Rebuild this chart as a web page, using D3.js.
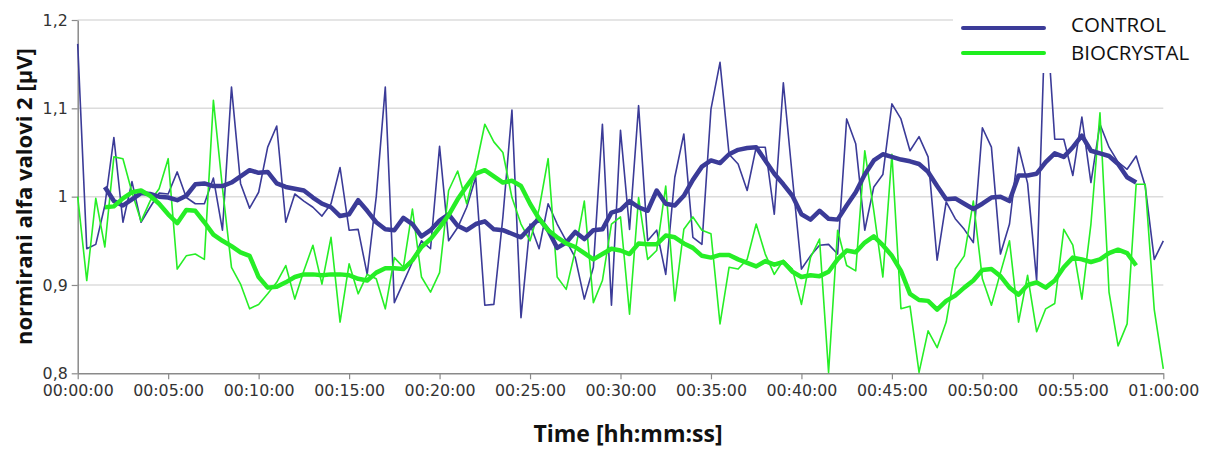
<!DOCTYPE html>
<html>
<head>
<meta charset="utf-8">
<script src="https://cdn.jsdelivr.net/npm/d3@7"></script>
<style>
  html, body { margin: 0; padding: 0; background: #fff; }
  #chart { display: block; }
</style>
</head>
<body>
<svg id="chart" width="1207" height="449"></svg>
<script>
// Sampling interval of the recording (seconds between two raw points)
const sampleSeconds = 30;

// Raw values, one every 30 s from 00:00:00 to 01:00:00
const controlRaw = [
  1.173, 0.941, 0.946, 0.990, 1.067, 0.971, 1.017, 0.971, 0.988, 1.004,
  1.003, 1.028, 0.999, 0.992, 0.992, 1.021, 0.962, 1.124, 1.015, 0.987,
  1.005, 1.056, 1.080, 0.971, 1.003, 0.995, 0.988, 0.978, 0.992, 1.033,
  0.962, 0.963, 0.912, 1.000, 1.124, 0.880, 0.903, 0.926, 0.950, 0.941,
  1.057, 0.950, 0.965, 0.988, 1.022, 0.877, 0.878, 0.977, 1.098, 0.863,
  0.969, 0.941, 0.992, 0.969, 0.950, 0.931, 0.884, 0.920, 1.082, 0.877,
  1.075, 0.963, 1.103, 0.950, 0.962, 0.912, 1.022, 1.071, 0.954, 0.946,
  1.099, 1.152, 1.048, 1.037, 1.007, 1.056, 1.056, 0.980, 1.129, 1.022,
  0.918, 0.933, 0.945, 0.946, 0.935, 1.088, 1.060, 0.962, 1.011, 1.025,
  1.105, 1.088, 1.052, 1.068, 1.045, 0.928, 0.994, 0.975, 0.963, 0.948,
  1.078, 1.056, 0.935, 0.969, 1.056, 1.015, 0.905, 1.220, 1.065, 1.065,
  1.024, 1.090, 1.016, 1.082, 1.056, 1.039, 1.031, 1.046, 1.012, 0.929,
  0.950
];

const biocrystalRaw = [
  1.000, 0.905, 0.998, 0.943, 1.045, 1.043, 1.005, 0.972, 0.995, 1.009,
  1.043, 0.918, 0.933, 0.935, 0.929, 1.109, 1.010, 0.920, 0.901, 0.873,
  0.878, 0.890, 0.903, 0.922, 0.884, 0.916, 0.945, 0.901, 0.954, 0.858,
  0.924, 0.890, 0.912, 0.907, 0.873, 0.931, 0.920, 0.986, 0.909, 0.892,
  0.914, 1.007, 1.029, 0.992, 1.033, 1.082, 1.062, 1.050, 0.999, 0.969,
  0.950, 0.986, 1.043, 0.909, 0.895, 0.939, 0.995, 0.880, 0.905, 0.969,
  0.977, 0.867, 0.999, 0.929, 0.939, 1.012, 0.882, 0.963, 0.977, 0.962,
  0.958, 0.856, 0.920, 0.918, 0.929, 0.969, 0.935, 0.912, 0.928, 0.918,
  0.878, 0.931, 0.952, 0.801, 0.962, 0.922, 0.916, 1.052, 0.984, 0.909,
  1.048, 0.873, 0.876, 0.801, 0.848, 0.829, 0.858, 0.918, 0.933, 0.995,
  0.907, 0.877, 0.914, 0.950, 0.858, 0.911, 0.847, 0.873, 0.879, 0.963,
  0.945, 0.884, 0.969, 1.095, 0.892, 0.831, 0.856, 1.014, 1.014, 0.872,
  0.805
];

// Smoothed trend lines (thick), first point at sample 3
const trendStartIndex = 3;

const controlTrend = [
  1.011, 0.995, 0.990, 0.997, 1.004, 1.003, 1.000, 0.999, 0.996, 1.001,
  1.014, 1.015, 1.012, 1.012, 1.016, 1.023, 1.030, 1.027, 1.028, 1.015,
  1.011, 1.009, 1.007, 0.999, 0.992, 0.988, 0.978, 0.980, 0.996, 0.984,
  0.971, 0.963, 0.962, 0.976, 0.969, 0.955, 0.962, 0.973, 0.980, 0.967,
  0.962, 0.969, 0.972, 0.963, 0.962, 0.958, 0.954, 0.965, 0.975, 0.962,
  0.942, 0.948, 0.960, 0.952, 0.962, 0.963, 0.982, 0.985, 0.995, 0.988,
  0.984, 1.007, 0.992, 0.990, 1.001, 1.019, 1.034, 1.041, 1.038, 1.048,
  1.053, 1.055, 1.056, 1.041, 1.026, 1.014, 1.001, 0.980, 0.974, 0.984,
  0.975, 0.974, 0.990, 1.005, 1.025, 1.041, 1.048, 1.045, 1.042, 1.040,
  1.037, 1.028, 1.012, 0.997, 0.998, 0.992, 0.986, 0.992, 0.999, 1.000,
  0.995, 1.024, 1.024, 1.026, 1.039, 1.049, 1.045, 1.056, 1.069, 1.052,
  1.049, 1.046, 1.037, 1.022, 1.016
];

const biocrystalTrend = [
  0.988, 0.989, 0.998, 1.005, 1.007, 1.001, 0.992, 0.980, 0.970, 0.985,
  0.984, 0.971, 0.957, 0.950, 0.944, 0.937, 0.933, 0.909, 0.897, 0.898,
  0.903, 0.909, 0.912, 0.912, 0.911, 0.912, 0.912, 0.911, 0.907, 0.905,
  0.914, 0.919, 0.919, 0.918, 0.928, 0.943, 0.952, 0.965, 0.979, 0.997,
  1.012, 1.026, 1.030, 1.023, 1.016, 1.018, 1.012, 0.992, 0.975, 0.962,
  0.954, 0.947, 0.943, 0.936, 0.929, 0.935, 0.941, 0.939, 0.935, 0.947,
  0.946, 0.946, 0.956, 0.954, 0.947, 0.942, 0.933, 0.931, 0.934, 0.934,
  0.929, 0.925, 0.921, 0.927, 0.923, 0.926, 0.915, 0.909, 0.911, 0.910,
  0.915, 0.929, 0.939, 0.937, 0.948, 0.955, 0.945, 0.933, 0.916, 0.890,
  0.883, 0.882, 0.872, 0.882, 0.888, 0.897, 0.905, 0.917, 0.918, 0.910,
  0.897, 0.889, 0.900, 0.903, 0.897, 0.905, 0.920, 0.931, 0.929, 0.926,
  0.929, 0.936, 0.940, 0.936, 0.922
];

// Axis ticks
const xTickSeconds = [0, 300, 600, 900, 1200, 1500, 1800, 2100, 2400, 2700, 3000, 3300, 3600];
const xTickLabels = ["00:00:00", "00:05:00", "00:10:00", "00:15:00", "00:20:00", "00:25:00",
                     "00:30:00", "00:35:00", "00:40:00", "00:45:00", "00:50:00", "00:55:00", "01:00:00"];
const yTickValues = [0.8, 0.9, 1.0, 1.1, 1.2];
const yTickLabels = ["0,8", "0,9", "1", "1,1", "1,2"];

const seriesNames = ["CONTROL", "BIOCRYSTAL"];

// Colours
const blue = "#3b3b98";
const green = "#26ee26";

// Plot area
const plotLeft = 77.7, plotRight = 1163.3, plotTop = 20, plotBottom = 373.3;

var svg = d3.select("#chart");

var xscale = d3.scaleLinear()
    .domain([0, 3600])
    .range([plotLeft, plotRight]);

var yscale = d3.scaleLinear()
    .domain([0.8, 1.2])
    .range([plotBottom, plotTop]);

// Horizontal gridlines
svg.append("g")
    .selectAll("line")
    .data(yTickValues.slice(1))
    .join("line")
    .attr("x1", plotLeft)
    .attr("x2", plotRight)
    .attr("y1", (d) => yscale(d))
    .attr("y2", (d) => yscale(d))
    .attr("stroke", "#dcdcdc")
    .attr("stroke-width", 1.5);

// Axes
var x_axis = d3.axisBottom()
    .scale(xscale)
    .tickValues(xTickSeconds)
    .tickFormat((d, i) => xTickLabels[i])
    .tickSize(6)
    .tickSizeOuter(0)
    .tickPadding(5);

var y_axis = d3.axisLeft()
    .scale(yscale)
    .tickValues(yTickValues)
    .tickFormat((d, i) => yTickLabels[i])
    .tickSize(6)
    .tickSizeOuter(0)
    .tickPadding(4);

var gx = svg.append("g")
    .attr("transform", "translate(0," + plotBottom + ")")
    .call(x_axis);

var gy = svg.append("g")
    .attr("transform", "translate(" + plotLeft + ",0)")
    .call(y_axis);

[gx, gy].forEach(function (g) {
    g.select(".domain").attr("stroke", "#8a8a8a").attr("stroke-width", 1.5);
    g.selectAll(".tick line").attr("stroke", "#8a8a8a").attr("stroke-width", 1.2);
    g.selectAll("text")
        .style("font-family", "DejaVu Sans")
        .style("font-size", "15.8px")
        .attr("fill", "#333");
});

// Lines
var line = d3.line()
    .x((d) => xscale(d[0]))
    .y((d) => yscale(d[1]));

function rawPoints(values) {
    return values.map((v, i) => [i * sampleSeconds, v]);
}
function trendPoints(values) {
    return values.map((v, i) => [(i + trendStartIndex) * sampleSeconds, v]);
}

var lines = svg.append("g");

lines.append("path")
    .datum(rawPoints(controlRaw))
    .attr("d", line)
    .attr("fill", "none")
    .attr("stroke", blue)
    .attr("stroke-width", 1.6)
    .attr("stroke-linejoin", "round");

lines.append("path")
    .datum(rawPoints(biocrystalRaw))
    .attr("d", line)
    .attr("fill", "none")
    .attr("stroke", green)
    .attr("stroke-width", 1.6)
    .attr("stroke-linejoin", "round");

lines.append("path")
    .datum(trendPoints(controlTrend))
    .attr("d", line)
    .attr("fill", "none")
    .attr("stroke", blue)
    .attr("stroke-width", 4.5)
    .attr("stroke-linejoin", "round");

lines.append("path")
    .datum(trendPoints(biocrystalTrend))
    .attr("d", line)
    .attr("fill", "none")
    .attr("stroke", green)
    .attr("stroke-width", 4.5)
    .attr("stroke-linejoin", "round");

// Legend, on a white box that hides what runs beneath it
var legend = svg.append("g");

legend.append("rect")
    .attr("x", 953)
    .attr("y", 0)
    .attr("width", 254)
    .attr("height", 73)
    .attr("fill", "#fff");

legend.selectAll("line")
    .data(seriesNames)
    .join("line")
    .attr("x1", 963)
    .attr("x2", 1044)
    .attr("y1", (d, i) => 28 + i * 25)
    .attr("y2", (d, i) => 28 + i * 25)
    .attr("stroke", (d, i) => i === 0 ? blue : "#1eee1e")
    .attr("stroke-width", 4)
    .attr("stroke-linecap", "round");

legend.selectAll("text")
    .data(seriesNames)
    .join("text")
    .attr("x", 1071)
    .attr("y", (d, i) => 31.5 + i * 28.5)
    .style("font-family", "Open Sans")
    .style("font-size", "20.5px")
    .attr("fill", "#111")
    .text((d) => d);

// Axis titles
svg.append("text")
    .attr("transform", "translate(32," + ((plotTop + plotBottom) / 2) + ") rotate(-90)")
    .attr("text-anchor", "middle")
    .style("font-family", "Open Sans")
    .style("font-weight", "bold")
    .style("font-size", "22px")
    .attr("fill", "#111")
    .text("normirani alfa valovi 2 [µV]");

svg.append("text")
    .attr("x", 628)
    .attr("y", 442)
    .attr("text-anchor", "middle")
    .style("font-family", "Open Sans")
    .style("font-weight", "bold")
    .style("font-size", "23px")
    .attr("fill", "#111")
    .text("Time [hh:mm:ss]");
</script>
</body>
</html>
